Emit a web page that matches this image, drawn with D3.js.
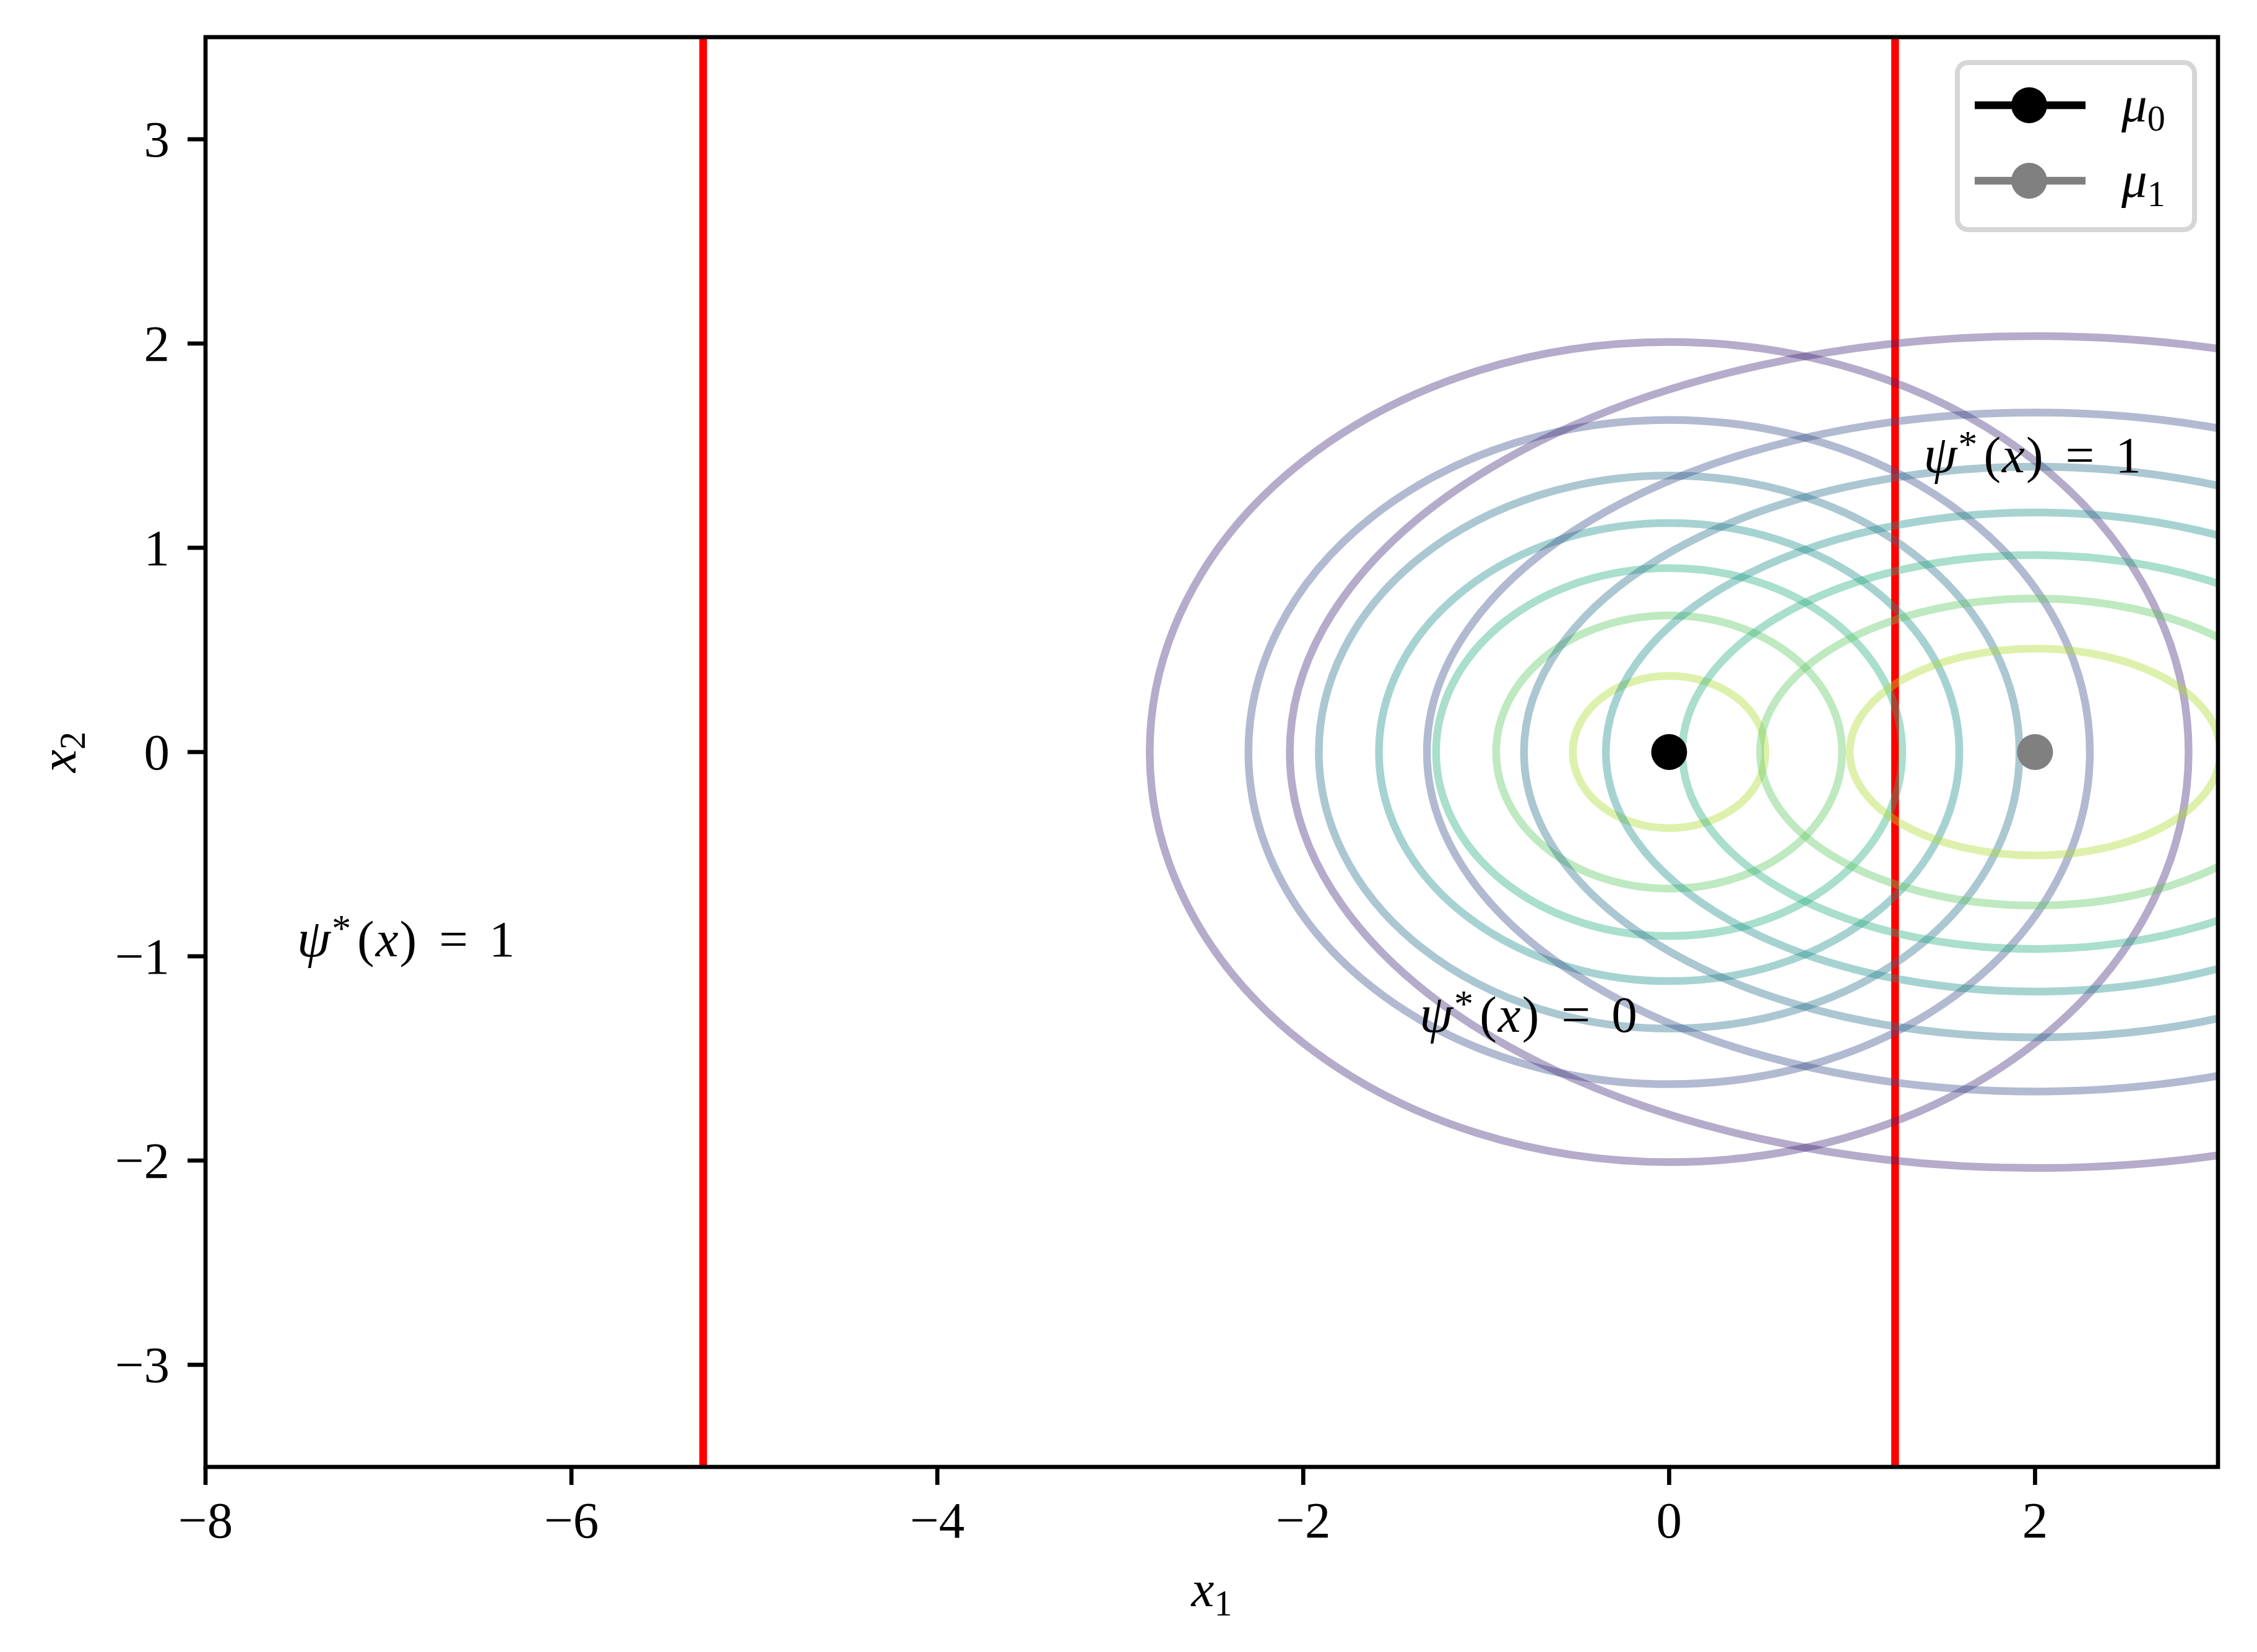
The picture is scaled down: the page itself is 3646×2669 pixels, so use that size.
<!DOCTYPE html>
<html>
<head>
<meta charset="utf-8">
<script src="https://cdn.jsdelivr.net/npm/d3@7"></script>
<style>
  body { margin: 0; background: #fff; }
  text { font-family: "Liberation Serif", "DejaVu Serif", serif; }
</style>
</head>
<body>
<svg id="chart" width="3646" height="2669"></svg>
<script>
// -------------------- DATA --------------------
const xTicks = [-8, -6, -4, -2, 0, 2];
const yTicks = [-3, -2, -1, 0, 1, 2, 3];
const xDomain = [-8, 3];
const yDomain = [-3.5, 3.5];

// two gaussians: mean and diagonal variances
const means = [[0, 0], [2, 0]];
const variances = [[2, 1], [4, 1]];
// contour levels of each density
const levels0 = [0.015, 0.03, 0.045, 0.06, 0.075, 0.09, 0.105];
const levels1 = [0.01, 0.02, 0.03, 0.04, 0.05, 0.06, 0.07];
const colorTop = [0.12, 0.08];   // upper end of colour normalisation

// decision boundaries (red vertical lines)
const boundaries = [-5.28, 1.235];

// region annotations
const annotations = [
  { x: -7.5, y: -1.0, value: "1" },
  { x: -1.365, y: -1.37, value: "0" },
  { x: 1.39, y: 1.37, value: "1" }
];

const legendSubs = ["0", "1"];
const meanColors = ["#000000", "#808080"];

// -------------------- LAYOUT --------------------
const FS = 83;                       // 10pt at 600 dpi
const margin = { left: 332, right: 3583, top: 60, bottom: 2370 };

const svg = d3.select("#chart");
svg.append("rect").attr("width", 3646).attr("height", 2669).attr("fill", "#fff");

const x = d3.scaleLinear().domain(xDomain).range([margin.left, margin.right]);
const y = d3.scaleLinear().domain(yDomain).range([margin.bottom, margin.top]);

svg.append("clipPath").attr("id", "clip")
  .append("rect")
  .attr("x", margin.left).attr("y", margin.top)
  .attr("width", margin.right - margin.left)
  .attr("height", margin.bottom - margin.top);

const plot = svg.append("g").attr("clip-path", "url(#clip)");

// -------------------- RED BOUNDARIES --------------------
plot.selectAll("line.boundary")
  .data(boundaries)
  .enter()
  .append("line")
  .attr("class", "boundary")
  .attr("x1", d => x(d)).attr("x2", d => x(d))
  .attr("y1", margin.top).attr("y2", margin.bottom)
  .attr("stroke", "#ff0000")
  .attr("stroke-width", 12.5);

// -------------------- CONTOURS --------------------
const allLevels = [levels0, levels1];
means.forEach((m, i) => {
  const v = variances[i];
  const peak = 1 / (2 * Math.PI * Math.sqrt(v[0] * v[1]));
  const rings = allLevels[i].map(l => {
    const r = Math.sqrt(2 * Math.log(peak / l));
    return { level: l, rx: r * Math.sqrt(v[0]), ry: r * Math.sqrt(v[1]) };
  });
  plot.append("g")
    .selectAll("ellipse")
    .data(rings)
    .enter()
    .append("ellipse")
    .attr("cx", x(m[0]))
    .attr("cy", y(m[1]))
    .attr("rx", d => x(m[0] + d.rx) - x(m[0]))
    .attr("ry", d => y(m[1]) - y(m[1] + d.ry))
    .attr("fill", "none")
    .attr("stroke", d => d3.interpolateViridis(d.level / colorTop[i]))
    .attr("stroke-opacity", 0.4)
    .attr("stroke-width", 12.5);
});

// -------------------- MEANS --------------------
plot.selectAll("circle.mean")
  .data(means)
  .enter()
  .append("circle")
  .attr("class", "mean")
  .attr("cx", d => x(d[0]))
  .attr("cy", d => y(d[1]))
  .attr("r", 29)
  .attr("fill", (d, i) => meanColors[i]);

// -------------------- ANNOTATIONS --------------------
function psiLabel(g, px, py, value) {
  const t = g.append("text").attr("x", px).attr("y", py)
    .attr("font-size", FS).attr("fill", "#000");
  t.append("tspan").attr("font-style", "italic").attr("font-size", FS * 1.05).text("ψ");
  t.append("tspan").attr("font-size", FS * 0.75).attr("dy", -0.3 * FS).attr("dx", 2).text("*");
  t.append("tspan").attr("dy", 0.3 * FS).attr("dx", 10).text("(");
  t.append("tspan").attr("font-style", "italic").attr("dx", 2).text("x");
  t.append("tspan").attr("dx", 2).text(")");
  t.append("tspan").attr("dx", 36).text("=");
  t.append("tspan").attr("dx", 34).text(value);
}
annotations.forEach(a => psiLabel(svg, x(a.x), y(a.y), a.value));

// -------------------- AXES --------------------
const axes = svg.append("g");
axes.append("rect")
  .attr("x", margin.left).attr("y", margin.top)
  .attr("width", margin.right - margin.left)
  .attr("height", margin.bottom - margin.top)
  .attr("fill", "none").attr("stroke", "#000").attr("stroke-width", 6.7);

const fmt = d => d < 0 ? "\u2212" + Math.abs(d) : String(d);
const tickLen = 29, pad = 29;

const xt = axes.selectAll("g.xt").data(xTicks).enter().append("g")
  .attr("transform", d => `translate(${x(d)},${margin.bottom})`);
xt.append("line").attr("y2", tickLen).attr("stroke", "#000").attr("stroke-width", 6.7);
xt.append("text")
  .attr("y", tickLen + pad + 56)
  .attr("text-anchor", "middle")
  .attr("font-size", FS)
  .text(fmt);

const yt = axes.selectAll("g.yt").data(yTicks).enter().append("g")
  .attr("transform", d => `translate(${margin.left},${y(d)})`);
yt.append("line").attr("x2", -tickLen).attr("stroke", "#000").attr("stroke-width", 6.7);
yt.append("text")
  .attr("x", -tickLen - pad)
  .attr("dy", 0.34 * FS)
  .attr("text-anchor", "end")
  .attr("font-size", FS)
  .text(fmt);

// axis labels
const xl = svg.append("text")
  .attr("x", (margin.left + margin.right) / 2)
  .attr("y", 2595)
  .attr("text-anchor", "middle")
  .attr("font-size", FS);
xl.append("tspan").attr("font-style", "italic").text("x");
xl.append("tspan").attr("font-size", FS * 0.7).attr("dy", 0.18 * FS).text("1");

const yl = svg.append("text")
  .attr("transform", `translate(122,${y(0)}) rotate(-90)`)
  .attr("text-anchor", "middle")
  .attr("font-size", FS);
yl.append("tspan").attr("font-style", "italic").text("x");
yl.append("tspan").attr("font-size", FS * 0.7).attr("dy", 0.18 * FS).text("2");

// -------------------- LEGEND --------------------
const legend = svg.append("g");
legend.append("rect")
  .attr("x", 3162).attr("y", 101)
  .attr("width", 383).attr("height", 270)
  .attr("rx", 17).attr("ry", 17)
  .attr("fill", "#fff").attr("fill-opacity", 0.8)
  .attr("stroke", "#d6d6d6").attr("stroke-width", 8);

const rows = legend.selectAll("g.row")
  .data(legendSubs)
  .enter()
  .append("g")
  .attr("transform", (d, i) => `translate(3190,${170 + i * 122})`);
rows.append("line")
  .attr("x1", 0).attr("x2", 179)
  .attr("stroke", (d, i) => meanColors[i])
  .attr("stroke-width", 12.5);
rows.append("circle")
  .attr("cx", 88).attr("r", 29)
  .attr("fill", (d, i) => meanColors[i]);
const lt = rows.append("text")
  .attr("x", 237).attr("y", 26)
  .attr("font-size", FS);
lt.append("tspan").attr("font-style", "italic").text("μ");
lt.append("tspan").attr("font-size", FS * 0.7).attr("dy", 0.18 * FS).text(d => d);
</script>
</body>
</html>
